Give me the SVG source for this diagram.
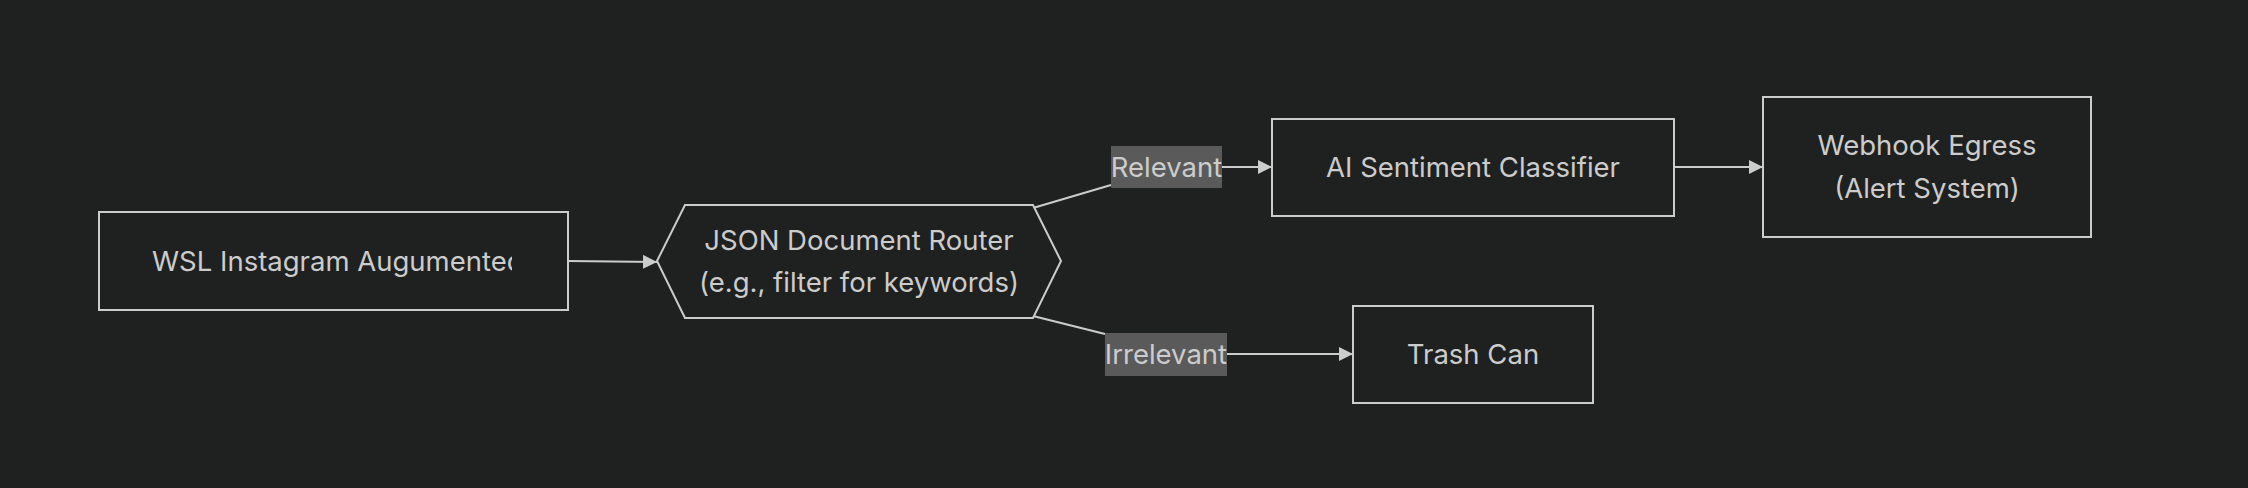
<svg xmlns="http://www.w3.org/2000/svg" width="2248" height="488" viewBox="0 0 2248 488">
<style>
.node{fill:#1f2121;stroke:#cccccc;stroke-width:2}
.t{font-family:Inter,"Liberation Sans",sans-serif;font-size:27.5px;fill:#cccccc;text-anchor:middle}
.edge{fill:none;stroke:#cccccc;stroke-width:2}
.lbl{fill:#5a5a5a}
</style>
<defs>
<marker id="arr" viewBox="0 0 10 10" refX="10" refY="5" markerWidth="14" markerHeight="14" markerUnits="userSpaceOnUse" orient="auto">
<path d="M0,0 L10,5 L0,10 z" fill="#cccccc"/>
</marker>
<clipPath id="c1"><rect x="100" y="213" width="412" height="96"/></clipPath>
</defs>
<rect width="2248" height="488" fill="#1f2020"/>
<g id="connectors">
<path class="edge" d="M568,261 L657,262" marker-end="url(#arr)"/>
<path class="edge" d="M1033,208 L1111,185"/>
<path class="edge" d="M1222,167 L1272,167" marker-end="url(#arr)"/>
<path class="edge" d="M1675,167 L1763,167" marker-end="url(#arr)"/>
<path class="edge" d="M1033,316 L1105,334"/>
<path class="edge" d="M1227,354 L1353,354" marker-end="url(#arr)"/>
<g id="label-relevant">
<rect class="lbl" x="1111" y="146" width="111" height="42"/>
<text class="t" x="1166.5" y="177">Relevant</text>
</g>
<g id="label-irrelevant">
<rect class="lbl" x="1105" y="333" width="122" height="43"/>
<text class="t" x="1166" y="364">Irrelevant</text>
</g>
</g>
<g id="wsl">
<rect class="node" x="99" y="212" width="469" height="98"/>
<text class="t" x="152" y="271" style="text-anchor:start" clip-path="url(#c1)">WSL Instagram Augumented</text>
</g>
<g id="router">
<polygon class="node" points="657,261 685,205 1033,205 1061,261 1033,318 685,318"/>
<text class="t" x="859" y="250">JSON Document Router</text>
<text class="t" x="859" y="292">(e.g., filter for keywords)</text>
</g>
<g id="classifier">
<rect class="node" x="1272" y="119" width="402" height="97"/>
<text class="t" x="1473" y="177">AI Sentiment Classifier</text>
</g>
<g id="webhook">
<rect class="node" x="1763" y="97" width="328" height="140"/>
<text class="t" x="1927" y="155">Webhook Egress</text>
<text class="t" x="1927" y="198">(Alert System)</text>
</g>
<g id="trash">
<rect class="node" x="1353" y="306" width="240" height="97"/>
<text class="t" x="1473" y="364">Trash Can</text>
</g>
</svg>
